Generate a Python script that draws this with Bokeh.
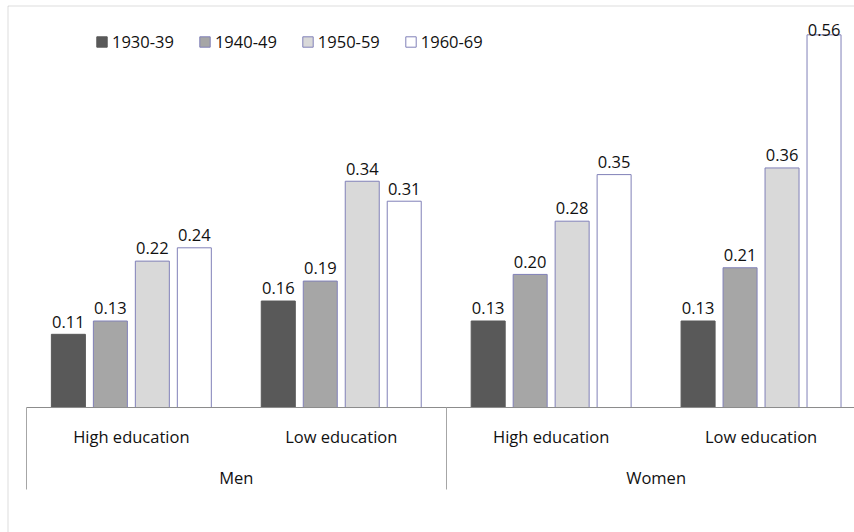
import numpy as np
from bokeh.plotting import figure
from bokeh.models import (ColumnDataSource, Range1d, LinearAxis, FixedTicker,
                          Legend, LegendItem, BoxAnnotation)
from bokeh.core.properties import value
from bokeh.embed import file_html
from bokeh.resources import INLINE

# Categories: education level within sex
education = ["High education", "Low education", "High education", "Low education"]
sexes = ["Men", "Women"]
cohorts = ["1930-39", "1940-49", "1950-59", "1960-69"]

# Values per birth cohort, in the order of `education`
v_1930 = [0.11, 0.16, 0.13, 0.13]
v_1940 = [0.13, 0.19, 0.20, 0.21]
v_1950 = [0.22, 0.34, 0.28, 0.36]
v_1960 = [0.24, 0.31, 0.35, 0.56]
series = [v_1930, v_1940, v_1950, v_1960]

FILLS = ["#595959", "#A6A6A6", "#D9D9D9", "#FFFFFF"]
EDGES = ["#595959", "#8080B8", "#8080B8", "#8080B8"]
FONT = "Open Sans"
FSIZE = "16.5px"
TEXT = "#111111"
GRAY = "#8C8C8C"

W, H = 854, 532
p = figure(width=W, height=H, output_backend="svg", toolbar_location=None,
           x_range=Range1d(-0.1234, 3.9452), y_range=Range1d(-0.1878, 0.6116),
           x_axis_type=None, y_axis_type=None, min_border=0)
p.outline_line_color = None
p.background_fill_color = "white"
p.border_fill_color = "white"

# chart-area border (left and top edges)
p.add_layout(BoxAnnotation(left=7.5, top=5.5, right=W + 20, bottom=H + 20,
                           left_units="canvas", top_units="canvas",
                           right_units="canvas", bottom_units="canvas",
                           fill_alpha=0, line_color=GRAY, line_width=1))

slot = 0.2          # spacing of bars inside a category
bar_w = 0.162       # bar width in category units
gap = 0.0191        # distance of value label above its bar
label_cap = 0.5675  # highest allowed label baseline

centers = np.arange(len(education)) + 0.5
items = []
for k, (name, vals) in enumerate(zip(cohorts, series)):
    vals = np.array(vals)
    src = ColumnDataSource(dict(
        x=centers + (k - 1.5) * slot,
        top=vals,
        label=[f"{v:.2f}" for v in vals],
        ly=np.minimum(vals + gap, label_cap),
    ))
    r = p.vbar(x="x", top="top", bottom=0, width=bar_w, source=src,
               fill_color=FILLS[k], line_color=EDGES[k], line_width=1)
    p.text(x="x", y="ly", text="label", source=src, text_align="center",
           text_baseline="alphabetic", text_font=value(FONT),
           text_font_size=FSIZE, text_color=TEXT)
    items.append(LegendItem(label=name, renderers=[r]))

legend = Legend(items=items, orientation="horizontal", location=(95, 479),
                glyph_width=13, glyph_height=13, label_standoff=4, spacing=24,
                padding=0, margin=0, border_line_color=None,
                background_fill_alpha=0, label_text_font=FONT,
                label_text_font_size=FSIZE, label_text_color=TEXT,
                label_height=13)
p.add_layout(legend)

common = dict(fixed_location=0, bounds=(0, len(education)),
              major_label_text_font=FONT, major_label_text_font_size=FSIZE,
              major_label_text_color=TEXT, major_tick_in=0, minor_tick_in=0)

# category baseline with the separators at both ends and between the sexes
sep_axis = LinearAxis(ticker=FixedTicker(ticks=[0, 2, 4], minor_ticks=[]),
                      major_label_overrides={0: "", 2: "", 4: ""},
                      axis_line_color=GRAY, axis_line_width=1,
                      major_tick_out=82, major_tick_line_color="#A6A6A6",
                      minor_tick_line_color=None, **common)
p.add_layout(sep_axis, "below")

# education labels
edu_axis = LinearAxis(ticker=FixedTicker(ticks=list(centers), minor_ticks=[]),
                      major_label_overrides={float(c): t for c, t in zip(centers, education)},
                      axis_line_color=None, major_tick_out=0,
                      major_tick_line_color=None, minor_tick_line_color=None,
                      major_label_standoff=17, **common)
p.add_layout(edu_axis, "below")

# sex labels, one under each pair of categories
sex_pos = [1.0, 3.0]
sex_axis = LinearAxis(ticker=FixedTicker(ticks=sex_pos, minor_ticks=[]),
                      major_label_overrides={c: t for c, t in zip(sex_pos, sexes)},
                      axis_line_color=None, major_tick_out=0,
                      major_tick_line_color=None, minor_tick_line_color=None,
                      major_label_standoff=58, **common)
p.add_layout(sex_axis, "below")

open("out.html", "w").write(file_html(p, INLINE))
